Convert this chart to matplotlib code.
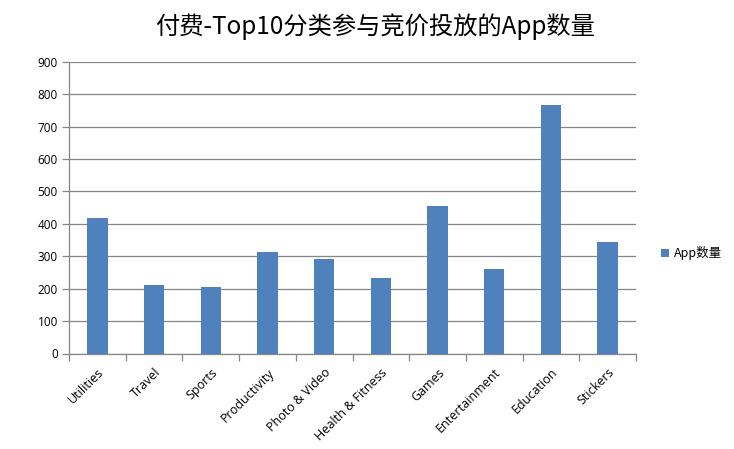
import matplotlib
matplotlib.use("Agg")
import matplotlib.pyplot as plt
import numpy as np

plt.rcParams['font.family'] = ['Noto Sans CJK SC', 'DejaVu Sans']

categories = ["Utilities", "Travel", "Sports", "Productivity", "Photo & Video",
              "Health & Fitness", "Games", "Entertainment", "Education", "Stickers"]
values = [417, 211, 205, 313, 291, 232, 455, 260, 766, 344]
yticks = [0, 100, 200, 300, 400, 500, 600, 700, 800, 900]
title = "付费-Top10分类参与竞价投放的App数量"
series_name = "App数量"

fig = plt.figure(figsize=(7.34, 4.49), dpi=100)
ax = fig.add_axes([69/734, 1-353.5/449, (636-69)/734, (353.5-61.7)/449])

x = np.arange(len(categories))
ax.bar(x, values, width=0.36, color="#4F81BD", label=series_name, zorder=3)

ax.set_xlim(-0.5, len(categories)-0.5)
ax.set_ylim(0, 900)
ax.set_yticks(yticks)
ax.set_yticklabels([str(v) for v in yticks], fontsize=8.5, family=['Open Sans', 'DejaVu Sans'])
ax.yaxis.grid(True, color="#868686", linewidth=0.9, zorder=0)
ax.set_axisbelow(True)

ax.set_xticks(x)
ax.set_xticklabels(categories, rotation=45, ha='right', rotation_mode='anchor', fontsize=9,
                   family=['Open Sans', 'DejaVu Sans'])
ax.set_xticks(np.arange(-0.5, len(categories)), minor=True)
ax.tick_params(axis='x', which='major', length=0, pad=9)
ax.tick_params(axis='x', which='minor', length=5, color="#868686", width=0.9)
ax.tick_params(axis='y', length=5, color="#868686", width=0.9, pad=3)

for s in ['top', 'right']:
    ax.spines[s].set_visible(False)
for s in ['left', 'bottom']:
    ax.spines[s].set_color("#868686")
    ax.spines[s].set_linewidth(0.9)

fig.text(375/734, 1-27/449, title, ha='center', va='center', fontsize=17.5)

leg = ax.legend(loc='center left', bbox_to_anchor=(650/734, 1-253/449),
                bbox_transform=fig.transFigure, frameon=False, fontsize=9,
                handlelength=0.6, handleheight=0.6, handletextpad=0.4)

fig.savefig("out.png", dpi=100)
